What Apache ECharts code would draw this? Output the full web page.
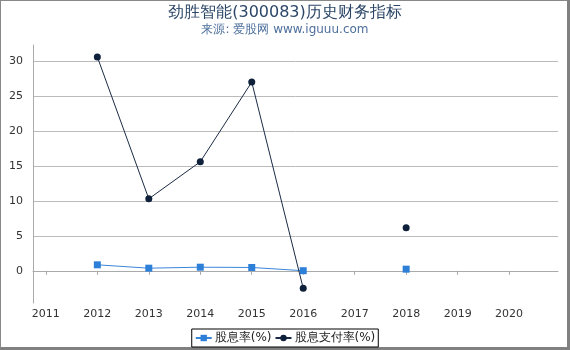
<!DOCTYPE html>
<html><head><meta charset="utf-8">
<script src="https://cdn.jsdelivr.net/npm/echarts@6/dist/echarts.min.js"></script>
<style>
html,body{margin:0;padding:0;background:#fff;}
#wrap{position:absolute;left:0;top:0;border-left:1px solid #888;border-top:1px solid #888;border-right:3px solid #808080;border-bottom:3px solid #808080;box-sizing:border-box;width:570px;height:350px;}
#c{position:absolute;left:0;top:0;width:570px;height:350px;}
</style></head>
<body>
<div id="wrap"></div>
<div id="c"></div>
<script>
const years = [2012, 2013, 2014, 2015, 2016, 2017, 2018];
const dividendYield = [0.86, 0.38, 0.52, 0.48, 0.02, null, 0.24];
const payoutRatio = [30.6, 10.3, 15.6, 27.0, -2.5, null, 6.15];
const seriesNames = ['股息率(%)', '股息支付率(%)'];

const chart = echarts.init(document.getElementById('c'), null, {renderer: 'canvas'});
const font = 'DejaVu Sans';
chart.setOption({
  animation: false,
  title: {
    text: '劲胜智能(300083)历史财务指标',
    subtext: '来源: 爱股网 www.iguuu.com',
    left: 'center', top: 0,
    itemGap: 3,
    textStyle: {fontFamily: font, fontSize: 16, fontWeight: 'normal', color: '#2b4667'},
    subtextStyle: {fontFamily: font, fontSize: 12, color: '#4d6f9c'}
  },
  legend: {
    bottom: 3, left: 'center',
    data: seriesNames,
    borderColor: '#000', borderWidth: 1, padding: [3, 3],
    itemWidth: 16, itemHeight: 8, itemGap: 3,
    textStyle: {fontFamily: font, fontSize: 12, color: '#222', padding: [0, 0, 0, -2]}
  },
  grid: {left: 33, right: 12, top: 45, bottom: 47},
  xAxis: {
    type: 'value', min: 2010.75, max: 2020.95, splitNumber: 10, minInterval: 1,
    axisLine: {show: true, lineStyle: {color: '#aaa'}},
    axisTick: {show: true, length: 4, lineStyle: {color: '#aaa'}},
    splitLine: {show: false},
    axisLabel: {showMinLabel: false, showMaxLabel: false, fontFamily: font, fontSize: 11, color: '#333', margin: 6,
      formatter: v => Number.isInteger(v) ? String(v) : ''}
  },
  yAxis: {
    type: 'value', min: -4.6, max: 32.3, splitNumber: 7,
    axisLine: {show: true, lineStyle: {color: '#aaa'}},
    axisTick: {show: false},
    splitLine: {show: true, showMinLine: false, showMaxLine: false, lineStyle: {color: '#bbb'}},
    axisLabel: {showMinLabel: false, showMaxLabel: false, fontFamily: font, fontSize: 11, color: '#333', margin: 10,
      formatter: v => Number.isInteger(v) ? String(v) : ''}
  },
  series: [
    {
      name: seriesNames[0], type: 'line',
      data: years.map((y, i) => [y, dividendYield[i]]),
      symbol: 'rect', symbolSize: 7, connectNulls: false,
      itemStyle: {color: '#2e7fd8'},
      lineStyle: {color: '#3a86d8', width: 1}
    },
    {
      name: seriesNames[1], type: 'line',
      data: years.map((y, i) => [y, payoutRatio[i]]),
      symbol: 'circle', symbolSize: 7, connectNulls: false,
      itemStyle: {color: '#0f213a'},
      lineStyle: {color: '#1b2b45', width: 1}
    }
  ]
});
</script>
</body></html>
